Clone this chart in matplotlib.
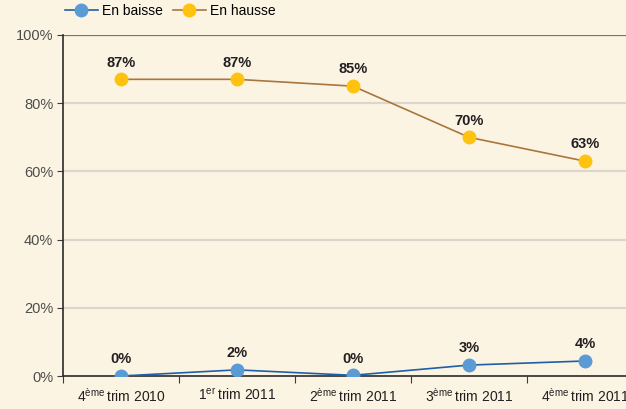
import matplotlib
matplotlib.use('Agg')
import matplotlib.pyplot as plt
from matplotlib.lines import Line2D

fam = 'Liberation Sans'
plt.rcParams['font.family'] = [fam, 'DejaVu Sans']
plt.rcParams['mathtext.fontset'] = 'custom'
plt.rcParams['mathtext.rm'] = fam

quarters = [('4', 'ème', 'trim 2010'), ('1', 'er', 'trim 2011'), ('2', 'ème', 'trim 2011'),
            ('3', 'ème', 'trim 2011'), ('4', 'ème', 'trim 2011')]
en_baisse = [0.0, 1.8, 0.2, 3.2, 4.4]
en_hausse = [87, 87, 85, 70, 63]
labels_baisse = ['0%', '2%', '0%', '3%', '4%']
labels_hausse = ['87%', '87%', '85%', '70%', '63%']

bg = '#FCF4E3'
fig = plt.figure(figsize=(6.26, 4.09), dpi=100, facecolor=bg)
ax = fig.add_axes([63/626, 33/409, 580/626, 341/409], facecolor=bg)

x = list(range(len(quarters)))
ax.plot(x, en_hausse, color='#A8763E', lw=1.2, marker='o', ms=9,
        mfc='#FFC20E', mec='#FFC20E', zorder=3)
ax.plot(x, en_baisse, color='#1F5FA8', lw=1.2, marker='o', ms=9,
        mfc='#5B9BD5', mec='#5B9BD5', zorder=3)

for xi, v, t in zip(x, en_hausse, labels_hausse):
    ax.annotate(t, (xi, v), xytext=(0, 7), textcoords='offset points',
                ha='center', va='bottom', fontsize=10.5, fontweight='bold', color='#231F20')
for xi, v, t in zip(x, en_baisse, labels_baisse):
    ax.annotate(t, (xi, v), xytext=(0, 7), textcoords='offset points',
                ha='center', va='bottom', fontsize=10.5, fontweight='bold', color='#231F20')

ax.set_xlim(-0.5, 4.5)
ax.set_ylim(0, 100)
ax.set_yticks([0, 20, 40, 60, 80, 100])
ax.set_yticklabels(['%d%%' % v for v in [0, 20, 40, 60, 80, 100]], fontsize=10.5, color='#4D4D4D')
for v in [20, 40, 60, 80]:
    ax.axhline(v, color='#DCD6CC', lw=1.6, zorder=1)
ax.axhline(100, color='#7A7366', lw=1.6, zorder=1)

ax.set_xticks([i + 0.5 for i in range(-1, 5)])
ax.set_xticklabels([])
ax.set_xticks(x, minor=True)
ax.set_xticklabels([r'%s$^{\mathrm{%s}}\,$%s' % q for q in quarters],
                   minor=True, fontsize=10, color='#231F20')
ax.tick_params(axis='x', which='minor', length=0, pad=8)
ax.tick_params(axis='x', which='major', length=5, direction='out', color='#3A3A3A')
ax.tick_params(axis='y', length=4, direction='out', color='#3A3A3A', pad=3)

for s in ['top', 'right']:
    ax.spines[s].set_visible(False)
ax.spines['left'].set_color('#2B2B2B')
ax.spines['bottom'].set_color('#2B2B2B')
ax.spines['left'].set_linewidth(1.2)
ax.spines['bottom'].set_linewidth(1.2)

handles = [Line2D([], [], color='#1F5FA8', lw=1.2, marker='o', ms=9, mfc='#5B9BD5', mec='#5B9BD5'),
           Line2D([], [], color='#A8763E', lw=1.2, marker='o', ms=9, mfc='#FFC20E', mec='#FFC20E')]
fig.legend(handles, ['En baisse', 'En hausse'], loc='upper left', bbox_to_anchor=(52/626, 1.02),
           ncol=2, frameon=False, fontsize=10, handlelength=2.4, columnspacing=0.7,
           handletextpad=0.3)

fig.savefig('out.png', dpi=100, facecolor=bg)
